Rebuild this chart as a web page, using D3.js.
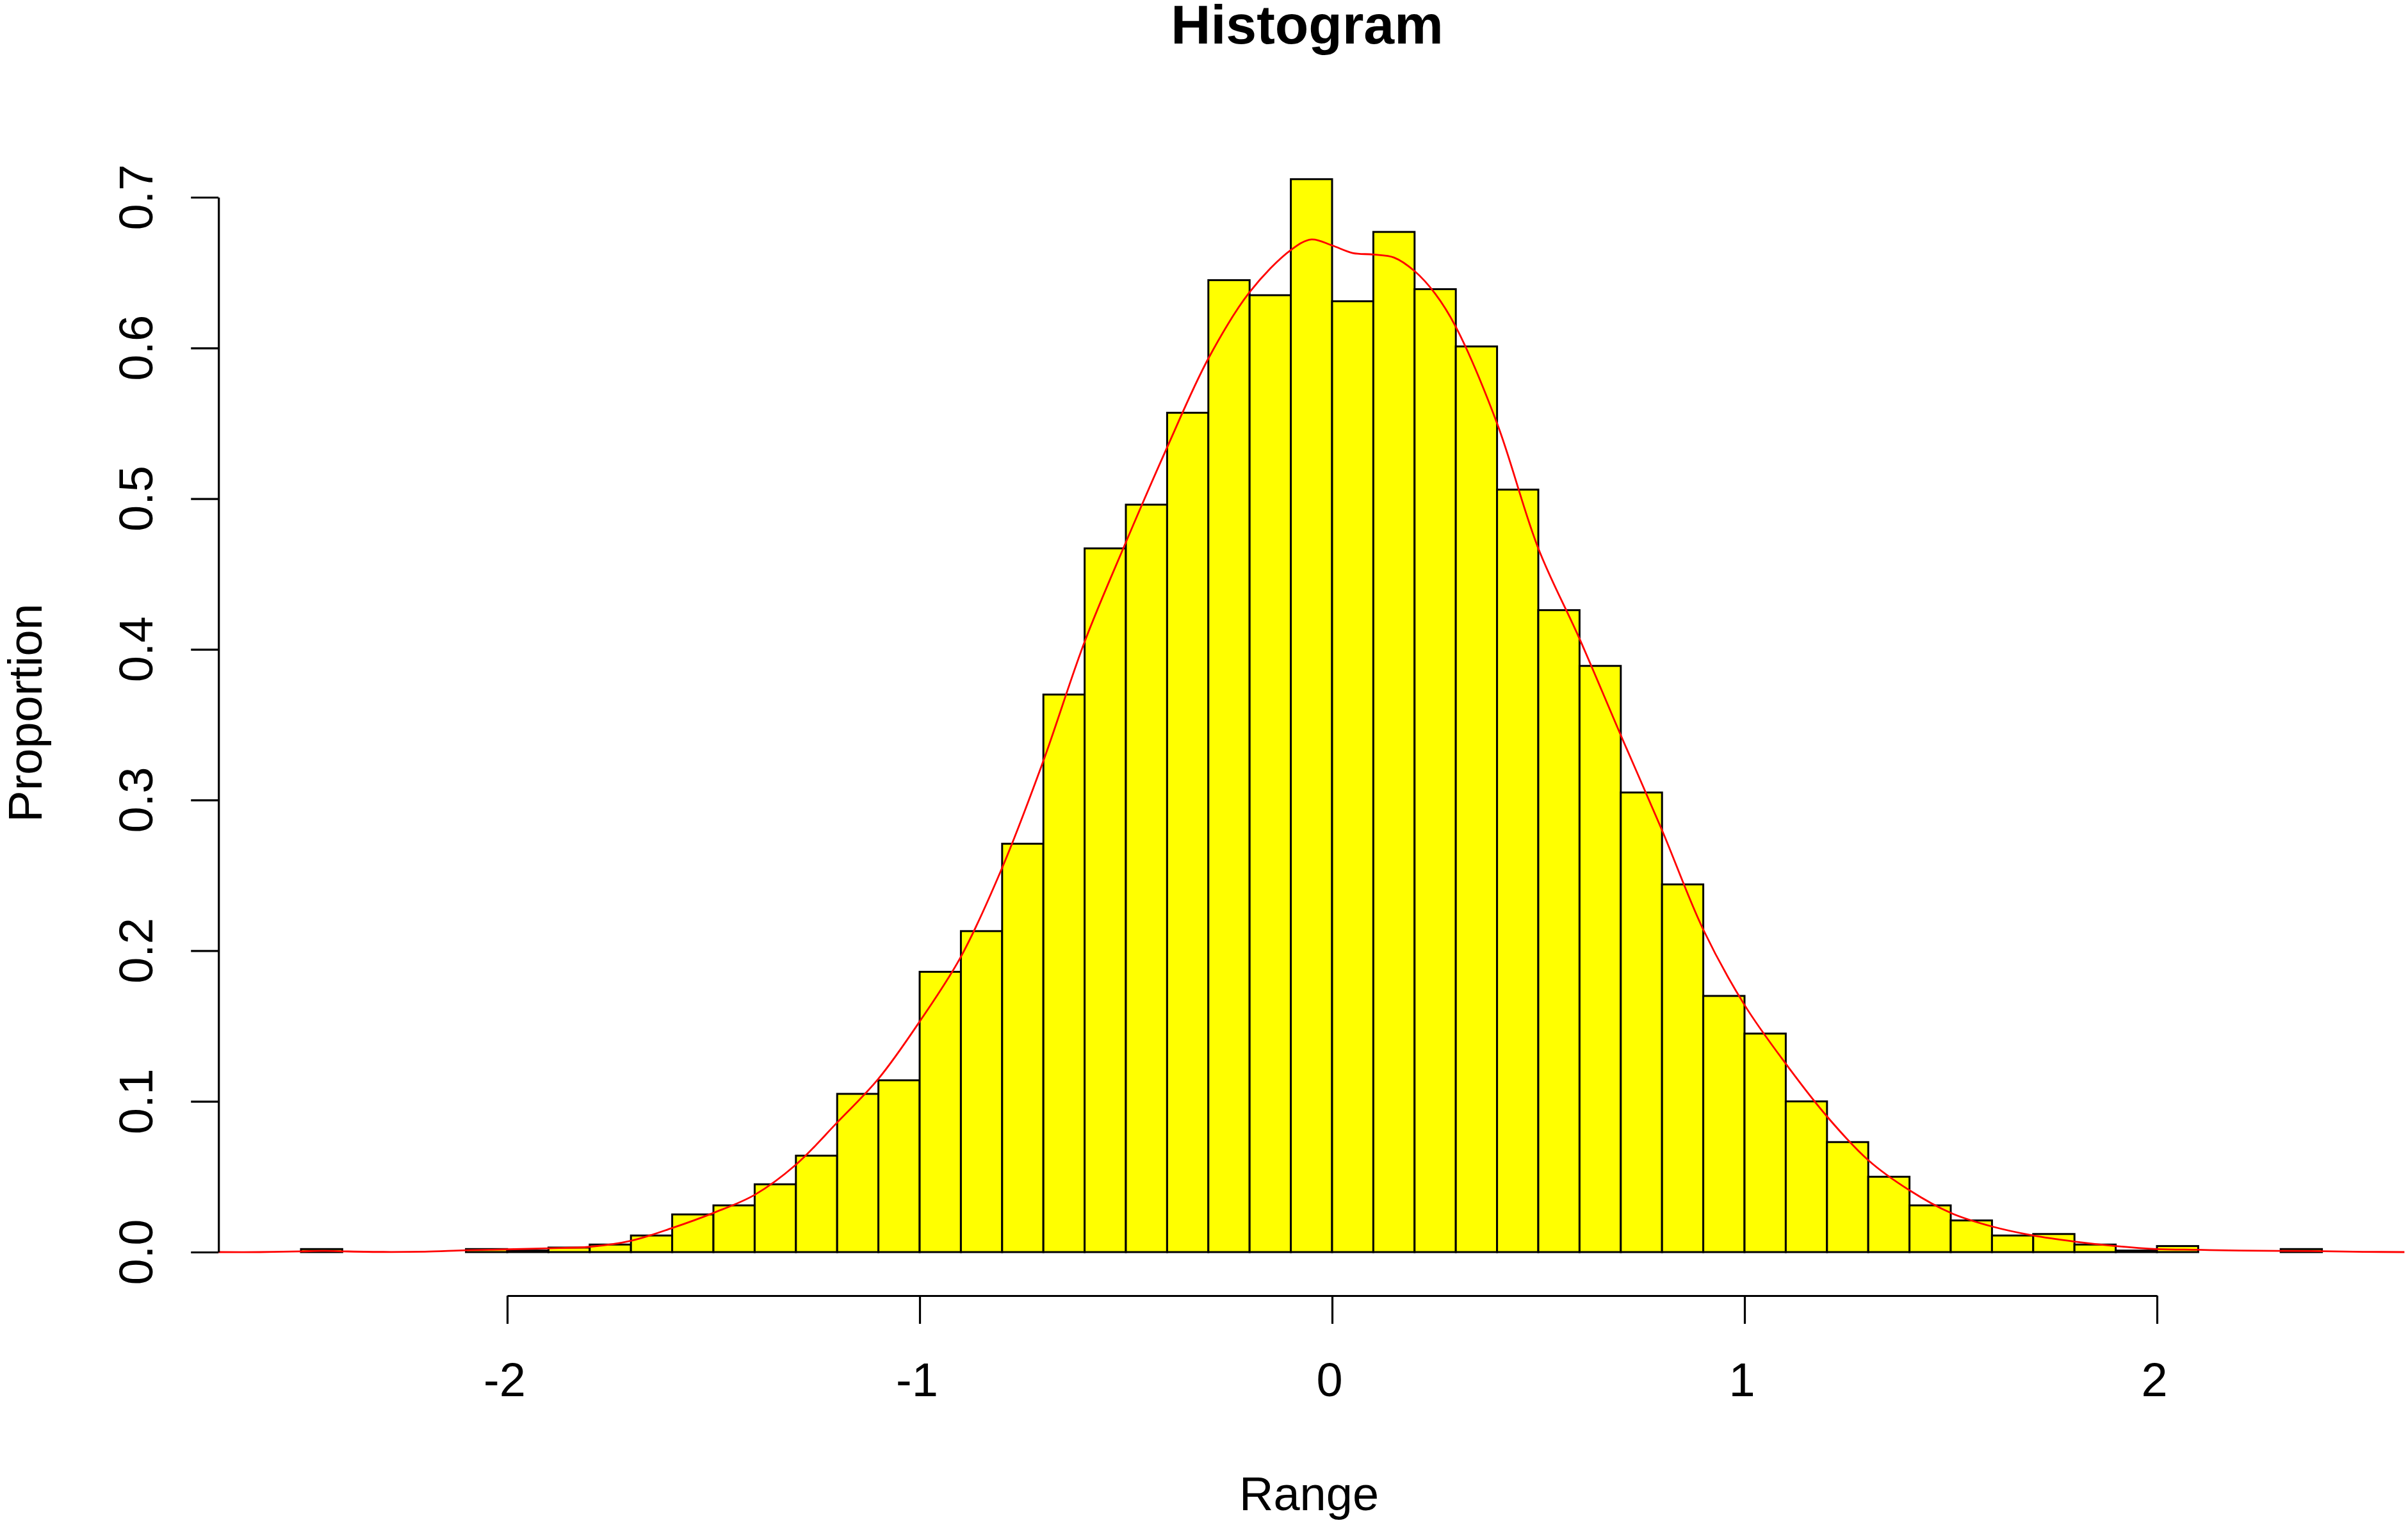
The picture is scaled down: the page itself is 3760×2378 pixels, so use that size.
<!DOCTYPE html>
<html>
<head>
<meta charset="utf-8">
<script src="https://cdn.jsdelivr.net/npm/d3@7"></script>
<style>
  html, body { margin: 0; padding: 0; background: #fff; }
  svg { display: block; }
  text { font-family: "Liberation Sans", Arial, Helvetica, sans-serif; fill: #000; }
</style>
</head>
<body>
<svg id="chart" width="3760" height="2378"></svg>
<script>
// ---- data ----
const binStarts = [-2.5,-2.4,-2.3,-2.2,-2.1,-2.0,-1.9,-1.8,-1.7,-1.6,-1.5,-1.4,-1.3,-1.2,-1.1,-1.0,-0.9,-0.8,-0.7,-0.6,-0.5,-0.4,-0.3,-0.2,-0.1,0.0,0.1,0.2,0.3,0.4,0.5,0.6,0.7,0.8,0.9,1.0,1.1,1.2,1.3,1.4,1.5,1.6,1.7,1.8,1.9,2.0,2.1,2.2,2.3];
const binWidth = 0.1;
const proportions = [0.002,0,0,0,0.002,0.001,0.003,0.005,0.011,0.025,0.031,0.045,0.064,0.105,0.114,0.186,0.213,0.271,0.370,0.467,0.496,0.557,0.645,0.635,0.712,0.631,0.677,0.639,0.601,0.506,0.426,0.389,0.305,0.244,0.170,0.145,0.100,0.073,0.050,0.031,0.021,0.011,0.012,0.005,0.001,0.004,0,0,0.002];

const densityX = [-2.70,-2.6,-2.5,-2.45,-2.4,-2.3,-2.2,-2.1,-2.0,-1.9,-1.8,-1.7,-1.6,-1.5,-1.4,-1.3,-1.2,-1.1,-1.0,-0.9,-0.8,-0.7,-0.6,-0.5,-0.4,-0.3,-0.2,-0.1,-0.05,0,0.05,0.1,0.15,0.2,0.25,0.3,0.4,0.5,0.6,0.7,0.8,0.9,1.0,1.1,1.2,1.3,1.4,1.5,1.6,1.7,1.8,1.9,2.0,2.1,2.2,2.3,2.4,2.5,2.6];
const densityY = [0,0,0.0005,0.0008,0.0005,0.0001,0.0003,0.0012,0.0018,0.0025,0.0035,0.0075,0.016,0.026,0.038,0.058,0.086,0.115,0.153,0.196,0.255,0.326,0.405,0.471,0.534,0.593,0.637,0.665,0.672,0.668,0.663,0.662,0.660,0.651,0.636,0.614,0.550,0.467,0.407,0.343,0.280,0.214,0.164,0.125,0.090,0.061,0.041,0.026,0.017,0.011,0.007,0.004,0.002,0.0015,0.001,0.0008,0.0006,0.0002,0];

const xTicks = [-2,-1,0,1,2];
const xTickLabels = ["-2","-1","0","1","2"];
const yTicks = [0,0.1,0.2,0.3,0.4,0.5,0.6,0.7];
const yTickLabels = ["0.0","0.1","0.2","0.3","0.4","0.5","0.6","0.7"];
const titleText = "Histogram";
const xLabel = "Range";
const yLabel = "Proportion";

// ---- layout ----
const svg = d3.select("#chart");
const x = d3.scaleLinear().domain([-2, 2]).range([792, 3368]);
const y = d3.scaleLinear().domain([0, 0.7]).range([1955, 308]);
const yAxisX = x(densityX[0]);   // left edge of plot region (y axis position)
const xAxisY = 2023;

svg.append("rect").attr("width", 3760).attr("height", 2378).attr("fill", "#fff");

// bars
svg.append("g").selectAll("rect")
  .data(binStarts.map((b, i) => ({b, v: proportions[i]})))
  .join("rect")
  .attr("x", d => x(d.b))
  .attr("width", d => x(d.b + binWidth) - x(d.b))
  .attr("y", d => y(d.v))
  .attr("height", d => y(0) - y(d.v))
  .attr("fill", "#ffff00")
  .attr("stroke", "#000")
  .attr("stroke-width", 3);

// density line
const line = d3.line()
  .x(d => x(d[0]))
  .y(d => y(d[1]))
  .curve(d3.curveCatmullRom.alpha(0.5));
svg.append("path")
  .datum(densityX.map((v, i) => [v, densityY[i]]))
  .attr("d", line)
  .attr("fill", "none")
  .attr("stroke", "#ff0000")
  .attr("stroke-width", 2.8);

// y axis
const yAxisG = svg.append("g")
  .attr("transform", `translate(${yAxisX},0)`)
  .call(d3.axisLeft(y).tickValues(yTicks).tickSize(43).tickSizeOuter(0).tickFormat(""));
yAxisG.selectAll("path, line").attr("stroke", "#000").attr("stroke-width", 3.2);

svg.append("g").selectAll("text")
  .data(yTicks)
  .join("text")
  .attr("transform", d => `translate(238,${y(d)}) rotate(-90)`)
  .attr("text-anchor", "middle")
  .attr("font-size", 74)
  .text((d, i) => yTickLabels[i]);

// x axis
const xAxisG = svg.append("g")
  .attr("transform", `translate(0,${xAxisY})`)
  .call(d3.axisBottom(x).tickValues(xTicks).tickSize(44).tickSizeOuter(0).tickFormat(""));
xAxisG.selectAll("path, line").attr("stroke", "#000").attr("stroke-width", 3.2);

svg.append("g").selectAll("text")
  .data(xTicks)
  .join("text")
  .attr("x", d => x(d) - 4)
  .attr("y", 2180)
  .attr("text-anchor", "middle")
  .attr("font-size", 74)
  .text((d, i) => xTickLabels[i]);

// titles
svg.append("text")
  .attr("x", 2041).attr("y", 68)
  .attr("text-anchor", "middle")
  .attr("font-size", 86)
  .attr("font-weight", "bold")
  .text(titleText);

svg.append("text")
  .attr("x", 2044).attr("y", 2358)
  .attr("text-anchor", "middle")
  .attr("font-size", 74)
  .text(xLabel);

svg.append("text")
  .attr("transform", "translate(65,1113) rotate(-90)")
  .attr("text-anchor", "middle")
  .attr("font-size", 74)
  .text(yLabel);
</script>
</body>
</html>
